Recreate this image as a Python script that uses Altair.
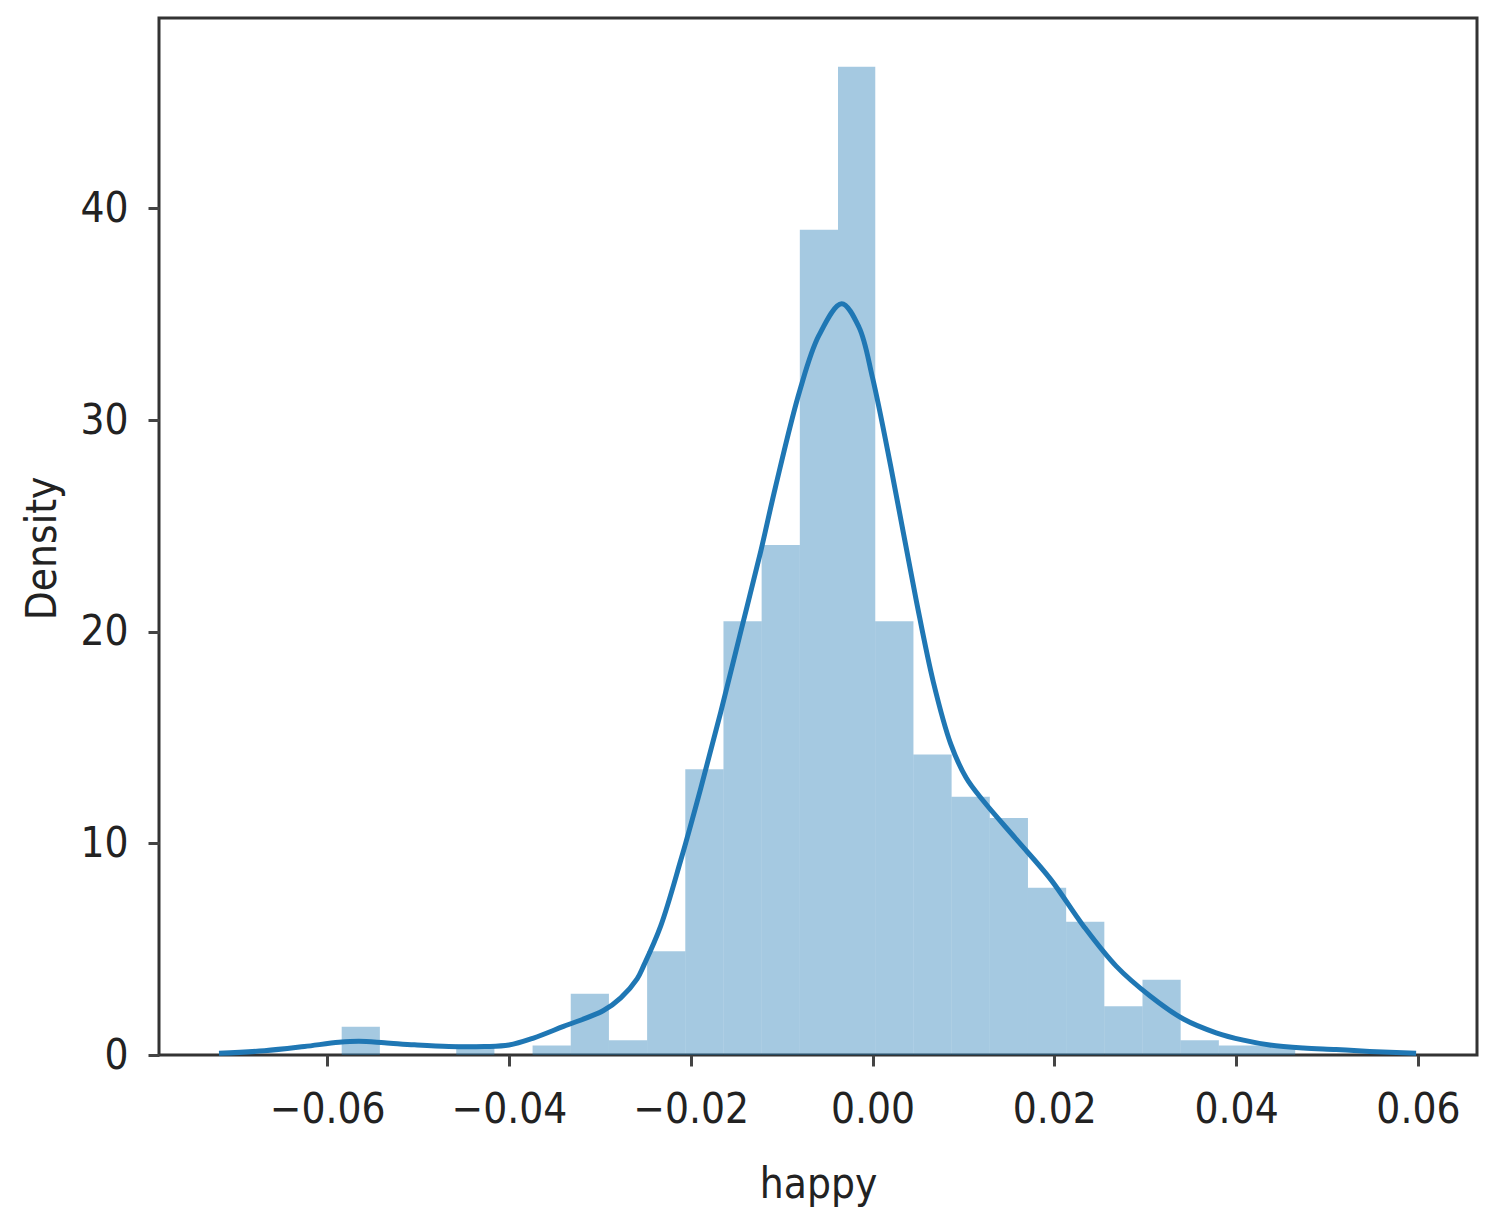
import altair as alt
import pandas as pd

# Histogram bins (data units) and density heights
bin_left = [-0.0584, -0.0458, -0.0374, -0.0332, -0.0290, -0.0248, -0.0206, -0.0164,
            -0.0122, -0.0080, -0.0038, 0.0003, 0.0045, 0.0087, 0.0129, 0.0171,
            0.0213, 0.0255, 0.0297, 0.0339, 0.0381, 0.0423]
bin_right = [-0.0542, -0.0416, -0.0332, -0.0290, -0.0248, -0.0206, -0.0164, -0.0122,
             -0.0080, -0.0038, 0.0003, 0.0045, 0.0087, 0.0129, 0.0171, 0.0213,
             0.0255, 0.0297, 0.0339, 0.0381, 0.0423, 0.0465]
bin_density = [1.33, 0.5, 0.45, 2.9, 0.7, 4.9, 13.5, 20.5,
               24.1, 39.0, 46.7, 20.5, 14.2, 12.2, 11.2, 7.9,
               6.3, 2.3, 3.55, 0.7, 0.45, 0.45]

# KDE curve points
kde_x = [-0.0719, -0.0669, -0.0625, -0.0587, -0.0565, -0.0537, -0.0504, -0.0466,
         -0.0427, -0.0400, -0.0373, -0.0340, -0.0296, -0.0277, -0.0259, -0.0252,
         -0.0233, -0.0211, -0.0189, -0.0167, -0.0145, -0.0123, -0.0107, -0.0080,
         -0.0059, -0.0034, -0.0015, 0.0000, 0.0021, 0.0048, 0.0067, 0.0086,
         0.0103, 0.0122, 0.0158, 0.0196, 0.0232, 0.0268, 0.0305, 0.0342,
         0.0378, 0.0408, 0.0437, 0.0474, 0.0510, 0.0547, 0.0598]
kde_y = [0.08, 0.2, 0.4, 0.6, 0.65, 0.58, 0.48, 0.4,
         0.4, 0.47, 0.8, 1.35, 2.1, 2.7, 3.6, 4.2,
         6.1, 9.2, 12.6, 16.2, 20.0, 23.8, 26.8, 31.4,
         34.0, 35.5, 34.4, 32.0, 27.6, 21.5, 17.6, 14.7,
         13.1, 12.0, 10.2, 8.3, 6.1, 4.2, 2.8, 1.7,
         1.05, 0.7, 0.47, 0.33, 0.26, 0.17, 0.08]

x_ticks = [-0.06, -0.04, -0.02, 0.0, 0.02, 0.04, 0.06]
y_ticks = [0, 10, 20, 30, 40]

hist_df = pd.DataFrame({"left": bin_left, "right": bin_right, "density": bin_density})
kde_df = pd.DataFrame({"happy": kde_x, "density": kde_y})

FONT = "DejaVu Sans Condensed, DejaVu Sans"
FS = 42

x_scale = alt.Scale(domain=[-0.0785, 0.0665], nice=False, zero=False)
y_scale = alt.Scale(domain=[0, 49], nice=False, zero=False)

x_axis = alt.Axis(
    values=x_ticks,
    labelExpr="replace(format(datum.value, '.2f'), '-', '\u2212')",
    title="happy",
    grid=False,
    tickSize=11, tickWidth=3, tickColor="#444444",
    domain=False,
    labelFont=FONT, labelFontSize=FS, labelColor="#222222",
    labelBaseline="top", labelPadding=23, labelFlush=False,
    titleFont=FONT, titleFontSize=FS, titleFontWeight="normal", titleColor="#222222",
    titleBaseline="alphabetic", titleY=142, titleX=659, titleAlign="center",
)
y_axis = alt.Axis(
    values=y_ticks,
    format="d",
    title="Density",
    grid=False,
    tickSize=11, tickWidth=3, tickColor="#444444",
    domain=False,
    labelFont=FONT, labelFontSize=FS, labelColor="#222222",
    labelBaseline="middle", labelPadding=20, labelFlush=False,
    titleFont=FONT, titleFontSize=FS, titleFontWeight="normal", titleColor="#222222",
    titleAngle=-90, titleBaseline="alphabetic", titleAlign="center",
    titleX=-104, titleY=530,
)

bars = alt.Chart(hist_df).mark_rect(color="#1f77b4", opacity=0.4).encode(
    x=alt.X("left:Q", scale=x_scale, axis=x_axis),
    x2="right:Q",
    y=alt.Y("density:Q", scale=y_scale, axis=y_axis),
    y2=alt.datum(0),
)

curve = alt.Chart(kde_df).mark_line(
    color="#1f77b4", strokeWidth=5, interpolate="catmull-rom"
).encode(
    x=alt.X("happy:Q", scale=x_scale),
    y=alt.Y("density:Q", scale=y_scale),
)

chart = alt.layer(bars, curve).properties(
    width=1318,
    height=1037,
    autosize=alt.AutoSizeParams(type="none"),
    padding={"left": 151, "top": 10, "right": 14, "bottom": 163},
    background="white",
).configure_view(
    stroke="#333333", strokeWidth=3
)

chart.save("out.html", embed_options={"renderer": "svg", "actions": False})
